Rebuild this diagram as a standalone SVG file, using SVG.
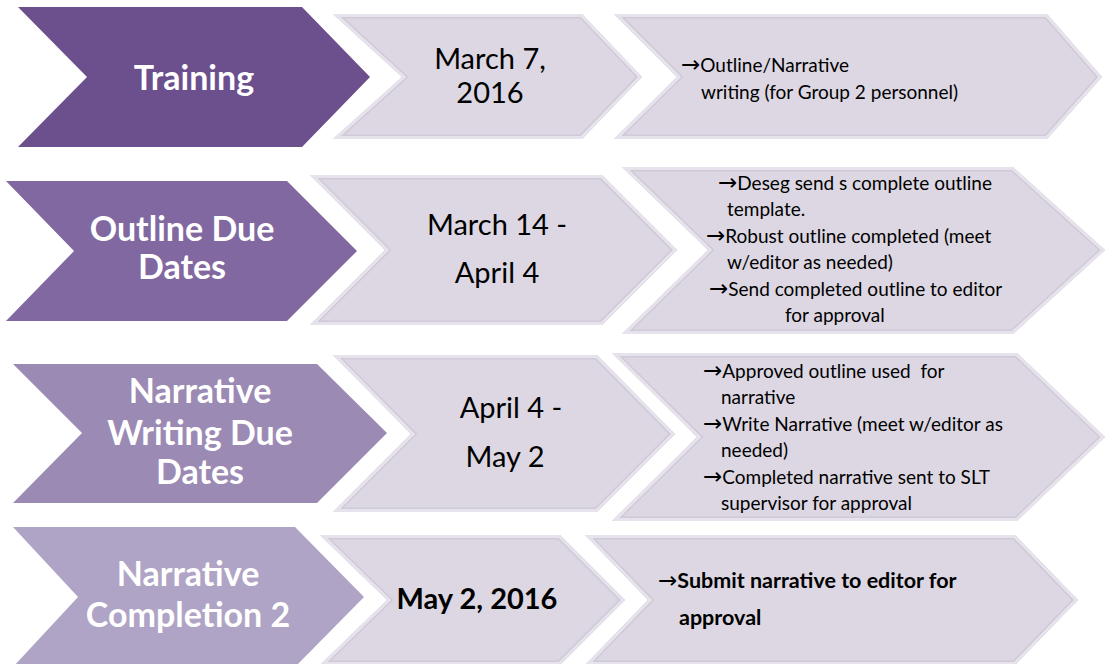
<svg xmlns="http://www.w3.org/2000/svg" xmlns:xlink="http://www.w3.org/1999/xlink" width="1106" height="664" viewBox="0 0 1106 664">
<style>
.lbl{font-family:Lato,"Open Sans","Liberation Sans",sans-serif;font-weight:bold;fill:#ffffff;font-size:34px;text-anchor:middle}
.date{font-family:Lato,"Open Sans","Liberation Sans",sans-serif;fill:#000;font-size:29px;text-anchor:middle}
.note{font-family:Lato,"Open Sans","Liberation Sans",sans-serif;fill:#000;font-size:19px}
.bnote{font-family:Lato,"Open Sans","Liberation Sans",sans-serif;fill:#000;font-size:21.5px;font-weight:bold}
.ar{font-family:"DejaVu Sans","Liberation Sans",sans-serif;font-weight:normal;font-size:23px}
.gray{fill:#DCD7E2}
.edgeA{fill:none;stroke:#D0C9D8;stroke-width:9}
.edgeB{fill:none;stroke:#E7E3EC;stroke-width:6}
</style>
<defs>
<polygon id="sM1" points="333,14 582,14 642,77 582,139 333,139 402,77"/>
<polygon id="sR1" points="614,14 1047,14 1102,77 1047,139 614,139 677,77"/>
<polygon id="sM2" points="310,175 602,175 677,250 602,325 310,325 385,250"/>
<polygon id="sR2" points="622,167 1013,167 1105,250 1013,334 622,334 708,250"/>
<polygon id="sM3" points="333,355 597,355 675,434 597,512 333,512 411,434"/>
<polygon id="sR3" points="612,353 1017,353 1105,437 1017,521 612,521 697,437"/>
<polygon id="sM4" points="320,535 560,535 625,600 560,665 320,665 387,600"/>
<polygon id="sR4" points="585,535 1015,535 1078,600 1015,665 585,665 648,600"/>
<clipPath id="cM1"><use xlink:href="#sM1"/></clipPath>
<clipPath id="cR1"><use xlink:href="#sR1"/></clipPath>
<clipPath id="cM2"><use xlink:href="#sM2"/></clipPath>
<clipPath id="cR2"><use xlink:href="#sR2"/></clipPath>
<clipPath id="cM3"><use xlink:href="#sM3"/></clipPath>
<clipPath id="cR3"><use xlink:href="#sR3"/></clipPath>
<clipPath id="cM4"><use xlink:href="#sM4"/></clipPath>
<clipPath id="cR4"><use xlink:href="#sR4"/></clipPath>
</defs>
<rect width="1106" height="664" fill="#ffffff"/>

<g id="row1-training">
<polygon points="18,7 302,7 370,77 302,147 18,147 87,77" fill="#6C4F8D"/>
<text class="lbl" x="194" y="90">Training</text>
</g>
<g id="row1-date">
<use xlink:href="#sM1" class="gray"/>
<g clip-path="url(#cM1)"><use xlink:href="#sM1" class="edgeA"/><use xlink:href="#sM1" class="edgeB"/></g>
<text class="date" x="490" y="69">March 7,</text>
<text class="date" x="490" y="103">2016</text>
</g>
<g id="row1-notes">
<use xlink:href="#sR1" class="gray"/>
<g clip-path="url(#cR1)"><use xlink:href="#sR1" class="edgeA"/><use xlink:href="#sR1" class="edgeB"/></g>
<text class="note" x="681" y="72"><tspan class="ar">→</tspan>Outline/Narrative</text>
<text class="note" x="701" y="99">writing (for Group 2 personnel)</text>
</g>

<g id="row2-outline">
<polygon points="6,181 287,181 357,251 287,321 6,321 74,251" fill="#8168A1"/>
<text class="lbl" x="182" y="241">Outline Due</text>
<text class="lbl" x="182" y="279">Dates</text>
</g>
<g id="row2-date">
<use xlink:href="#sM2" class="gray"/>
<g clip-path="url(#cM2)"><use xlink:href="#sM2" class="edgeA"/><use xlink:href="#sM2" class="edgeB"/></g>
<text class="date" x="497" y="235">March 14 -</text>
<text class="date" x="497" y="283">April 4</text>
</g>
<g id="row2-notes">
<use xlink:href="#sR2" class="gray"/>
<g clip-path="url(#cR2)"><use xlink:href="#sR2" class="edgeA"/><use xlink:href="#sR2" class="edgeB"/></g>
<text class="note" x="718" y="190"><tspan class="ar">→</tspan>Deseg send s complete outline</text>
<text class="note" x="727" y="216">template.</text>
<text class="note" x="706" y="243"><tspan class="ar">→</tspan>Robust outline completed (meet</text>
<text class="note" x="727" y="269">w/editor as needed)</text>
<text class="note" x="709" y="296"><tspan class="ar">→</tspan>Send completed outline to editor</text>
<text class="note" x="785" y="322">for approval</text>
</g>

<g id="row3-narrative">
<polygon points="13,364 317,364 387,433 317,503 13,503 82,433" fill="#9B8AB4"/>
<text class="lbl" x="200" y="403">Narrative</text>
<text class="lbl" x="200" y="445">Writing Due</text>
<text class="lbl" x="200" y="484">Dates</text>
</g>
<g id="row3-date">
<use xlink:href="#sM3" class="gray"/>
<g clip-path="url(#cM3)"><use xlink:href="#sM3" class="edgeA"/><use xlink:href="#sM3" class="edgeB"/></g>
<text class="date" x="511" y="418">April 4 -</text>
<text class="date" x="505" y="467">May 2</text>
</g>
<g id="row3-notes">
<use xlink:href="#sR3" class="gray"/>
<g clip-path="url(#cR3)"><use xlink:href="#sR3" class="edgeA"/><use xlink:href="#sR3" class="edgeB"/></g>
<text class="note" x="703" y="378" xml:space="preserve"><tspan class="ar">→</tspan>Approved outline used  for</text>
<text class="note" x="721" y="404">narrative</text>
<text class="note" x="703" y="431"><tspan class="ar">→</tspan>Write Narrative (meet w/editor as</text>
<text class="note" x="721" y="457">needed)</text>
<text class="note" x="703" y="484"><tspan class="ar">→</tspan>Completed narrative sent to SLT</text>
<text class="note" x="721" y="510">supervisor for approval</text>
</g>

<g id="row4-completion">
<polygon points="13,527 295,527 364,597 295,667 13,667 78,597" fill="#B0A4C6"/>
<text class="lbl" x="188" y="586">Narrative</text>
<text class="lbl" x="188" y="627">Completion 2</text>
</g>
<g id="row4-date">
<use xlink:href="#sM4" class="gray"/>
<g clip-path="url(#cM4)"><use xlink:href="#sM4" class="edgeA"/><use xlink:href="#sM4" class="edgeB"/></g>
<text class="date" x="477" y="609" font-weight="bold">May 2, 2016</text>
</g>
<g id="row4-notes">
<use xlink:href="#sR4" class="gray"/>
<g clip-path="url(#cR4)"><use xlink:href="#sR4" class="edgeA"/><use xlink:href="#sR4" class="edgeB"/></g>
<text class="bnote" x="658" y="588"><tspan class="ar" font-weight="bold">→</tspan>Submit narrative to editor for</text>
<text class="bnote" x="679" y="625">approval</text>
</g>
<g id="connectors"/>
</svg>
